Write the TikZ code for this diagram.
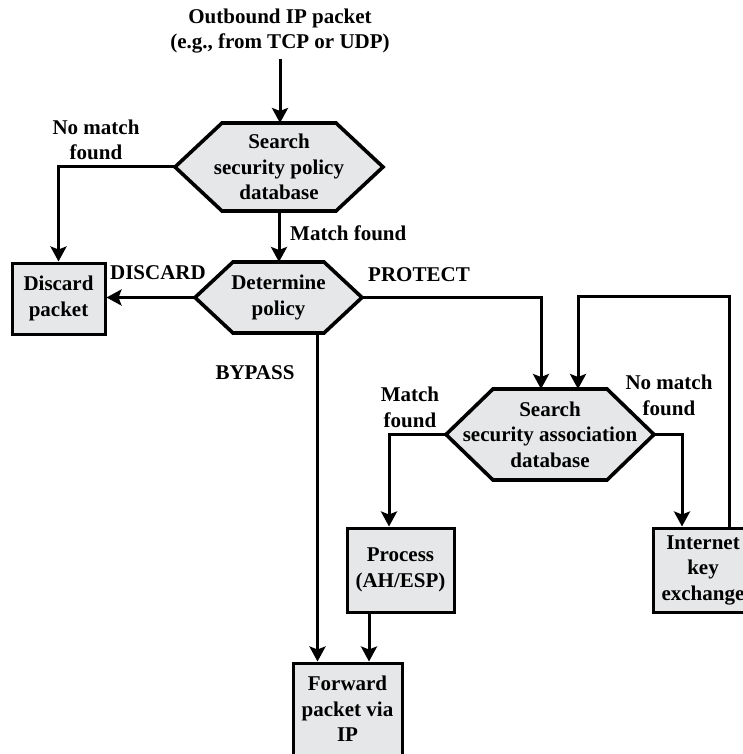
\documentclass[tikz,border=0pt]{standalone}
\usepackage{fontspec}
\setmainfont{Liberation Serif}
\usepackage{xcolor}
\usepackage{tikz}
\usetikzlibrary{arrows.meta, calc}
\pgfdeclarelayer{bg}
\pgfsetlayers{bg,main}
\definecolor{boxgray}{RGB}{230,231,232}

% hexagon behind a named node: node name, tip length
\newcommand{\hexback}[2]{%
  \begin{pgfonlayer}{bg}
    \filldraw[hexline] (#1.west) -- ($(#1.north west)+(#2,0)$) -- ($(#1.north east)-(#2,0)$)
      -- (#1.east) -- ($(#1.south east)-(#2,0)$) -- ($(#1.south west)+(#2,0)$) -- cycle;
  \end{pgfonlayer}}

\begin{document}
\begin{tikzpicture}[x=1pt, y=-1pt, line width=3pt,
    font=\fontsize{21}{25.5}\selectfont\bfseries,
    box/.style={draw, line width=3pt, fill=boxgray, align=center, inner sep=0pt},
    hexnode/.style={align=center, inner sep=0pt, outer sep=0pt},
    hexline/.style={draw, fill=boxgray, line width=3.6pt},
    lbl/.style={align=center, inner sep=2pt},
    arr/.style={line width=3pt, -{Stealth[length=15pt, width=16pt, inset=3pt]}}]
    \useasboundingbox (0,0) rectangle (743,754);

    % input
    \node[lbl, inner sep=4pt] (src) at (280,31) {Outbound IP packet\\(e.g., from TCP or UDP)};

    % decisions
    \node[hexnode, minimum width=208, minimum height=88] (spd) at (279,167) {Search\\security policy\\database};
    \hexback{spd}{47}
    \node[hexnode, minimum width=167, minimum height=71] (dp) at (278.5,297.5) {Determine\\policy};
    \hexback{dp}{38}
    \node[hexnode, minimum width=208, minimum height=91] (sad) at (550,434.5) {Search\\security association\\database};
    \hexback{sad}{47}

    % actions
    \node[box, minimum width=93, minimum height=71] (disc) at (58.5,298.5) {Discard\\packet};
    \node[box, minimum width=107, minimum height=84] (proc) at (400.5,570) {Process\\(AH/ESP)};
    \node[box, minimum width=109, minimum height=92] (fwd) at (347.5,709) {Forward\\packet via\\IP};
    \node[box, minimum width=100, minimum height=84] (ike) at (703,570) {Internet\\key\\exchange};

    % entry points
    \coordinate (sadin1) at ($(sad.north)+(-9,0)$);
    \coordinate (sadin2) at ($(sad.north)+(28,0)$);
    \coordinate (fwdin1) at ($(fwd.north)+(-30,0)$);
    \coordinate (fwdin2) at ($(fwd.north)+(21.5,0)$);
    \coordinate (procin) at ($(proc.north)+(-11.5,0)$);
    \coordinate (ikein) at ($(ike.north)+(-21,0)$);
    \coordinate (loop) at (729,296);

    % connectors
    \draw[arr] (src.south) -- (src.south |- spd.north);
    \draw[arr] (spd.west) -| (disc.north);
    \draw[arr] (spd.south) -- (spd.south |- dp.north);
    \draw[arr] (dp.west) -- (dp.west -| disc.east);
    \draw[arr] (dp.east) -| (sadin1);
    \draw[arr] (dp.south -| fwdin1) -- (fwdin1);
    \draw[arr] (sad.west) -| (procin);
    \draw[arr] (sad.east) -| (ikein);
    \draw[arr] (proc.south -| fwdin2) -- (fwdin2);
    \draw[arr] (ike.north -| loop) -- (loop) -| (sadin2);

    % labels
    \node[lbl] (nomatch1) at (96,140) {No match\\found};
    \node[lbl, anchor=west] (match1) at (288,233) {Match found};
    \node[lbl] (discl) at (158,273) {DISCARD};
    \node[lbl] (protl) at (419,275) {PROTECT};
    \node[lbl] (bypl) at (255,373) {BYPASS};
    \node[lbl] (match2) at (410,407.5) {Match\\found};
    \node[lbl] (nomatch2) at (669,395.5) {No match\\found};
\end{tikzpicture}
\end{document}
